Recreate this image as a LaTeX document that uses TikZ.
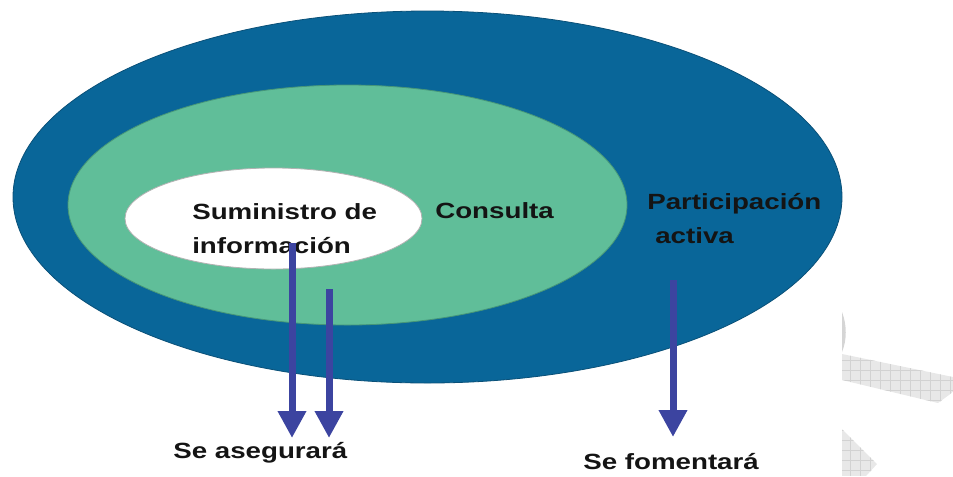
\documentclass[tikz,border=0pt]{standalone}
\usepackage{fontspec}
\setmainfont{Liberation Sans}[FakeStretch=1.26]
\usetikzlibrary{shapes.geometric,arrows.meta}
\definecolor{outerblue}{RGB}{9,102,153}
\definecolor{outeredge}{RGB}{10,80,120}
\definecolor{midgreen}{RGB}{96,190,153}
\definecolor{midedge}{RGB}{70,150,120}
\definecolor{arrowblue}{RGB}{60,68,160}
\definecolor{txt}{RGB}{20,20,20}
\definecolor{ghost}{RGB}{232,232,232}
\definecolor{ghostline}{RGB}{210,210,210}
\tikzset{
  ring/.style={ellipse, inner sep=0pt, line width=0.6pt},
  lbl/.style={font=\fontsize{16.5}{25.5}\selectfont\bfseries, text=txt, inner sep=0pt, anchor=base west, align=left},
  flow/.style={draw=arrowblue, line width=5.25pt, -{Triangle[width=20.25pt,length=20.25pt]}}
}
\begin{document}
\begin{tikzpicture}[x=0.75pt,y=-0.75pt]
\useasboundingbox (0,0) rectangle (953,476);
% faint background shapes at right
\begin{scope}
  \clip (842,354) -- (953,377) -- (953,392) -- (938,403) -- (842,380) -- cycle;
  \fill[ghost] (842,350) rectangle (953,405);
  \draw[ghostline, line width=0.4pt, step=7.5pt] (842,350) grid (953,405);
\end{scope}
\begin{scope}
  \clip (842,429) -- (877,464) -- (866,476) -- (842,476) -- cycle;
  \fill[ghost] (842,425) rectangle (880,476);
  \draw[ghostline, line width=0.4pt, step=7.5pt] (842,425) grid (880,476);
\end{scope}
\fill[ghost!92!black] (842,312) .. controls (847,325) and (847,340) .. (842,352) -- cycle;
% ellipses
\node[ring, fill=outerblue, draw=outeredge, minimum width=621.75pt, minimum height=279pt] (outer) at (427.5,197) {};
\node[ring, fill=midgreen, draw=midedge, minimum width=419.25pt, minimum height=180pt] (mid) at (347.5,205) {};
\node[ring, fill=white, draw=gray!60, minimum width=222.75pt, minimum height=75.75pt] (inner) at (273.5,218.5) {};
% labels (base anchor = last line baseline)
\node[lbl] (sum) at (192,253) {Suministro de\\información};
\node[lbl] (con) at (435,218) {Consulta};
\node[lbl] (par) at (647,243) {Participación\\\hspace{6pt}activa};
\node[lbl] (ase) at (173,458) {Se asegurará};
\node[lbl] (fom) at (583,469) {Se fomentará};
% arrows
\coordinate (a1s) at (292,243);
\coordinate (a1e) at (292,438);
\coordinate (a2s) at (329,289);
\coordinate (a2e) at (329,438);
\coordinate (a3s) at (673,280);
\coordinate (a3e) at (673,437);
\draw[flow] (a1s) -- (a1e);
\draw[flow] (a2s) -- (a2e);
\draw[flow] (a3s) -- (a3e);
\end{tikzpicture}
\end{document}
